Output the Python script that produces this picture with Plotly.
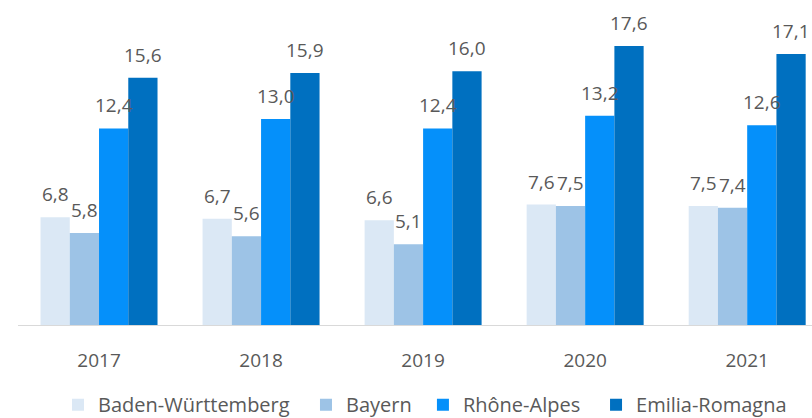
import plotly.graph_objects as go

years = ["2017", "2018", "2019", "2020", "2021"]
baden_wuerttemberg = [6.8, 6.7, 6.6, 7.6, 7.5]
bayern = [5.8, 5.6, 5.1, 7.5, 7.4]
rhone_alpes = [12.4, 13.0, 12.4, 13.2, 12.6]
emilia_romagna = [15.6, 15.9, 16.0, 17.6, 17.1]

series = [
    ("Baden-Württemberg", baden_wuerttemberg, "#dbe8f5"),
    ("Bayern", bayern, "#9dc3e6"),
    ("Rhône-Alpes", rhone_alpes, "#0590fa"),
    ("Emilia-Romagna", emilia_romagna, "#0070c0"),
]
# horizontal anchor of each legend entry (paper fraction)
legend_x = [0.0504, 0.3627, 0.510, 0.728]

FONT = "Open Sans"
TEXT_COLOR = "#595959"
BARGAP = 0.278
n = len(series)
bar_w = (1 - BARGAP) / n
xpos = list(range(len(years)))

fig = go.Figure()
annotations = []
legends = {}
for i, (name, vals, color) in enumerate(series):
    lg = "legend" if i == 0 else f"legend{i + 1}"
    fig.add_trace(go.Bar(
        x=xpos, y=vals, name=name, legend=lg,
        marker=dict(color=color, line=dict(width=0)),
    ))
    legends[lg] = dict(
        orientation="h", x=legend_x[i], xanchor="left",
        y=-0.245, yanchor="middle",
        font=dict(family=FONT, size=20, color=TEXT_COLOR),
        itemwidth=30, bgcolor="rgba(0,0,0,0)",
    )
    off = (i - (n - 1) / 2) * bar_w
    for xi, v in zip(xpos, vals):
        annotations.append(dict(
            x=xi + off, y=v, xref="x", yref="y",
            text=f"{v:.1f}".replace(".", ","),
            showarrow=False, yanchor="bottom", yshift=8,
            font=dict(family=FONT, size=19, color=TEXT_COLOR),
        ))

fig.update_layout(
    width=812, height=418,
    margin=dict(l=18, r=0, t=0, b=93, autoexpand=False),
    paper_bgcolor="white", plot_bgcolor="white",
    barmode="group", bargap=BARGAP, bargroupgap=0,
    font=dict(family=FONT, color=TEXT_COLOR),
    annotations=annotations,
    showlegend=True,
    **legends,
)
fig.update_xaxes(
    range=[-0.5, 4.4], tickmode="array", tickvals=xpos, ticktext=years,
    showline=True, linecolor="#d9d9d9", linewidth=1,
    ticks="outside", ticklen=18, tickcolor="rgba(0,0,0,0)",
    showgrid=False, zeroline=False,
    tickfont=dict(family=FONT, size=19, color=TEXT_COLOR),
)
fig.update_yaxes(range=[0, 20.5], visible=False)

fig.write_html("out.html")
